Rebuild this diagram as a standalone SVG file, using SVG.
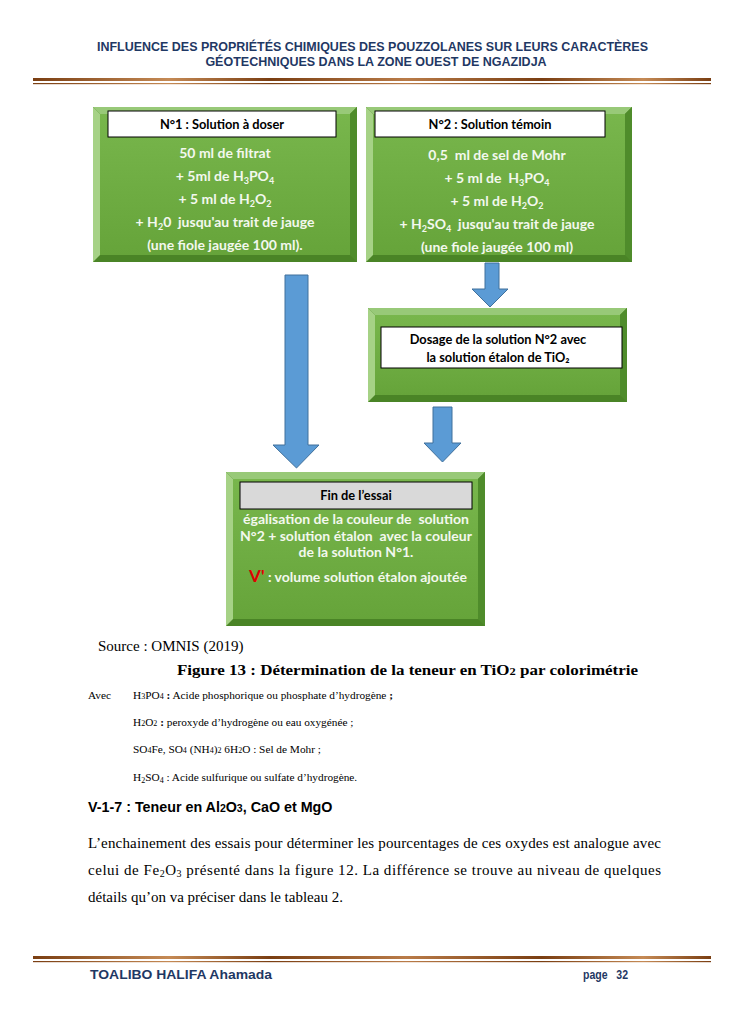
<svg xmlns="http://www.w3.org/2000/svg" width="745" height="1028" viewBox="0 0 745 1028">
<defs>
<linearGradient id="gfill" x1="0" y1="0" x2="0" y2="1">
<stop offset="0" stop-color="#78b64c"/>
<stop offset="1" stop-color="#66a43a"/>
</linearGradient>
<linearGradient id="brown" x1="0" y1="0" x2="1" y2="0">
<stop offset="0" stop-color="#7a3e12"/>
<stop offset="0.2" stop-color="#c58a55"/>
<stop offset="0.35" stop-color="#7a3e12"/>
<stop offset="0.55" stop-color="#b97b48"/>
<stop offset="0.75" stop-color="#7a3e12"/>
<stop offset="0.9" stop-color="#c58a55"/>
<stop offset="1" stop-color="#7a3e12"/>
</linearGradient>
</defs>
<style>
.hdr{font-family:"Liberation Sans",Arial,sans-serif;font-weight:bold;font-size:12.5px;fill:#1f3864}
.bt{font-family:Lato,"Open Sans",sans-serif;font-weight:bold;font-size:14px;fill:#f3f8ee;text-anchor:middle;white-space:pre}
.lb{font-family:Lato,"Open Sans",sans-serif;font-weight:bold;font-size:12.8px;fill:#000;text-anchor:middle}
.tm{font-family:"Liberation Serif","Times New Roman",serif;font-size:11.3px;fill:#000}
.tp{font-family:"Liberation Serif","Times New Roman",serif;font-size:15px;fill:#000}
.edgeL{fill:#a6d286}
.edgeT{fill:#98c978}
.edgeR{fill:#4f8c2b}
.edgeB{fill:#4a8426}
.arrow{fill:#5b9bd5;stroke:#41719c;stroke-width:1}
.sub{font-size:9px}
</style>
<rect width="745" height="1028" fill="#fff"/>

<!-- header -->
<text class="hdr" x="372.5" y="51" text-anchor="middle" textLength="551" lengthAdjust="spacingAndGlyphs">INFLUENCE DES PROPRIÉTÉS CHIMIQUES DES POUZZOLANES SUR LEURS CARACTÈRES</text>
<text class="hdr" x="376" y="66" text-anchor="middle">GÉOTECHNIQUES DANS LA ZONE OUEST DE NGAZIDJA</text>
<rect x="33" y="78" width="678" height="3" fill="url(#brown)"/>
<rect x="33" y="83" width="678" height="1.2" fill="url(#brown)"/>

<!-- connectors -->
<g id="connectors">
<path class="arrow" d="M285,275 H308 V445 H319 L296.5,468 L273,445 H285 Z"/>
<path class="arrow" d="M485,263 H499 V289 H508 L490,307 L472,289 H485 Z"/>
<path class="arrow" d="M433,407 H452 V443 H461 L442.5,462 L424,443 H433 Z"/>
</g>

<!-- node 1 -->
<g id="node1">
<rect x="93" y="107" width="264" height="155" class="edgeB"/>
<polygon points="93,107 357,107 350,114 100,114" class="edgeT"/>
<polygon points="93,107 100,114 100,255 93,262" class="edgeL"/>
<polygon points="357,107 357,262 350,255 350,114" class="edgeR"/>
<rect x="100" y="114" width="250" height="141" fill="url(#gfill)"/>
<rect x="108" y="111" width="228" height="26" fill="#fff" stroke="#000" stroke-width="1"/>
<text class="lb" x="222" y="129">N°1 : Solution à doser</text>
<text class="bt" x="225" y="158">50 ml de filtrat</text>
<text class="bt" x="225" y="181">+ 5ml de H<tspan class="sub" dy="3">3</tspan><tspan dy="-3">PO</tspan><tspan class="sub" dy="3">4</tspan></text>
<text class="bt" x="225" y="204">+ 5 ml de H<tspan class="sub" dy="3">2</tspan><tspan dy="-3">O</tspan><tspan class="sub" dy="3">2</tspan></text>
<text class="bt" x="225" y="227">+ H<tspan class="sub" dy="3">2</tspan><tspan dy="-3">0  jusqu'au trait de jauge</tspan></text>
<text class="bt" x="225" y="250">(une fiole jaugée 100 ml).</text>
</g>

<!-- node 2 -->
<g id="node2">
<rect x="366" y="107" width="266" height="155" class="edgeB"/>
<polygon points="366,107 632,107 625,114 373,114" class="edgeT"/>
<polygon points="366,107 373,114 373,255 366,262" class="edgeL"/>
<polygon points="632,107 632,262 625,255 625,114" class="edgeR"/>
<rect x="373" y="114" width="252" height="141" fill="url(#gfill)"/>
<rect x="375" y="111" width="230" height="26" fill="#fff" stroke="#000" stroke-width="1"/>
<text class="lb" x="490" y="129">N°2 : Solution témoin</text>
<text class="bt" x="497" y="160">0,5  ml de sel de Mohr</text>
<text class="bt" x="497" y="183">+ 5 ml de  H<tspan class="sub" dy="3">3</tspan><tspan dy="-3">PO</tspan><tspan class="sub" dy="3">4</tspan></text>
<text class="bt" x="497" y="206">+ 5 ml de H<tspan class="sub" dy="3">2</tspan><tspan dy="-3">O</tspan><tspan class="sub" dy="3">2</tspan></text>
<text class="bt" x="497" y="229">+ H<tspan class="sub" dy="3">2</tspan><tspan dy="-3">SO</tspan><tspan class="sub" dy="3">4</tspan><tspan dy="-3">  jusqu'au trait de jauge</tspan></text>
<text class="bt" x="497" y="252">(une fiole jaugée 100 ml)</text>
</g>

<!-- node 3 -->
<g id="node3">
<rect x="368" y="308" width="259" height="94" class="edgeB"/>
<polygon points="368,308 627,308 620,315 375,315" class="edgeT"/>
<polygon points="368,308 375,315 375,395 368,402" class="edgeL"/>
<polygon points="627,308 627,402 620,395 620,315" class="edgeR"/>
<rect x="375" y="315" width="245" height="80" fill="url(#gfill)"/>
<rect x="381" y="327" width="241" height="41" fill="#fff" stroke="#000" stroke-width="1"/>
<text class="lb" x="498" y="344">Dosage de la solution N°2 avec</text>
<text class="lb" x="498" y="362">la solution étalon de TiO₂</text>
</g>

<!-- node 4 -->
<g id="node4">
<rect x="226" y="472" width="259" height="154" class="edgeB"/>
<polygon points="226,472 485,472 478,479 233,479" class="edgeT"/>
<polygon points="226,472 233,479 233,619 226,626" class="edgeL"/>
<polygon points="485,472 485,626 478,619 478,479" class="edgeR"/>
<rect x="233" y="479" width="245" height="140" fill="url(#gfill)"/>
<rect x="240" y="482" width="232" height="27" fill="#d9d9d9" stroke="#000" stroke-width="1"/>
<text class="lb" x="356" y="500">Fin de l’essai</text>
<text class="bt" x="356" y="524">égalisation de la couleur de  solution</text>
<text class="bt" x="356" y="541">N°2 + solution étalon  avec la couleur</text>
<text class="bt" x="356" y="557">de la solution N°1.</text>
<text class="bt" x="358" y="582"><tspan fill="#e00000" font-size="17">V'</tspan> : volume solution étalon ajoutée</text>
</g>

<!-- captions -->
<text class="tp" x="98" y="651">Source : OMNIS (2019)</text>
<text class="tp" x="407.5" y="675" font-weight="bold" font-size="16" text-anchor="middle" textLength="461" lengthAdjust="spacingAndGlyphs">Figure 13 : Détermination de la teneur en TiO<tspan font-size="11">2</tspan> par colorimétrie</text>
<text class="tm" x="88" y="699">Avec</text>
<text class="tm" x="133" y="699">H<tspan font-size="8">3</tspan>PO<tspan font-size="8">4</tspan> <tspan font-weight="bold">:</tspan> Acide phosphorique ou phosphate d’hydrogène <tspan font-weight="bold">;</tspan></text>
<text class="tm" x="133" y="726">H<tspan font-size="8">2</tspan>O<tspan font-size="8">2</tspan> <tspan font-weight="bold">:</tspan> peroxyde d’hydrogène ou eau oxygénée ;</text>
<text class="tm" x="133" y="753">SO<tspan font-size="8">4</tspan>Fe, SO<tspan font-size="8">4</tspan> (NH<tspan font-size="8">4</tspan>)<tspan font-size="8">2</tspan> 6H<tspan font-size="8">2</tspan>O : Sel de Mohr ;</text>
<text class="tm" x="133" y="781">H<tspan font-size="8" dy="2">2</tspan><tspan dy="-2">SO</tspan><tspan font-size="8" dy="2">4</tspan><tspan dy="-2"> : Acide sulfurique ou sulfate d’hydrogène.</tspan></text>

<text x="88" y="812" font-family="Liberation Sans, Arial, sans-serif" font-weight="bold" font-size="14.3">V-1-7 : Teneur en Al<tspan font-size="10.5">2</tspan>O<tspan font-size="10.5">3</tspan>, CaO et MgO</text>
<text class="tp" x="88" y="848" textLength="573" lengthAdjust="spacing">L’enchainement des essais pour déterminer les pourcentages de ces oxydes est analogue avec</text>
<text class="tp" x="88" y="875" textLength="573" lengthAdjust="spacing">celui de Fe<tspan font-size="10" dy="2">2</tspan><tspan dy="-2">O</tspan><tspan font-size="10" dy="2">3</tspan><tspan dy="-2"> présenté dans la figure 12. La différence se trouve au niveau de quelques</tspan></text>
<text class="tp" x="88" y="902">détails qu’on va préciser dans le tableau 2.</text>

<!-- footer -->
<rect x="33" y="956" width="678" height="3" fill="url(#brown)"/>
<rect x="33" y="961" width="678" height="1.2" fill="url(#brown)"/>
<text class="hdr" x="90" y="979" font-size="13.5" textLength="182" lengthAdjust="spacingAndGlyphs">TOALIBO HALIFA Ahamada</text>
<text class="hdr" x="583" y="979" font-size="13" style="white-space:pre" textLength="45" lengthAdjust="spacingAndGlyphs">page   32</text>
</svg>
